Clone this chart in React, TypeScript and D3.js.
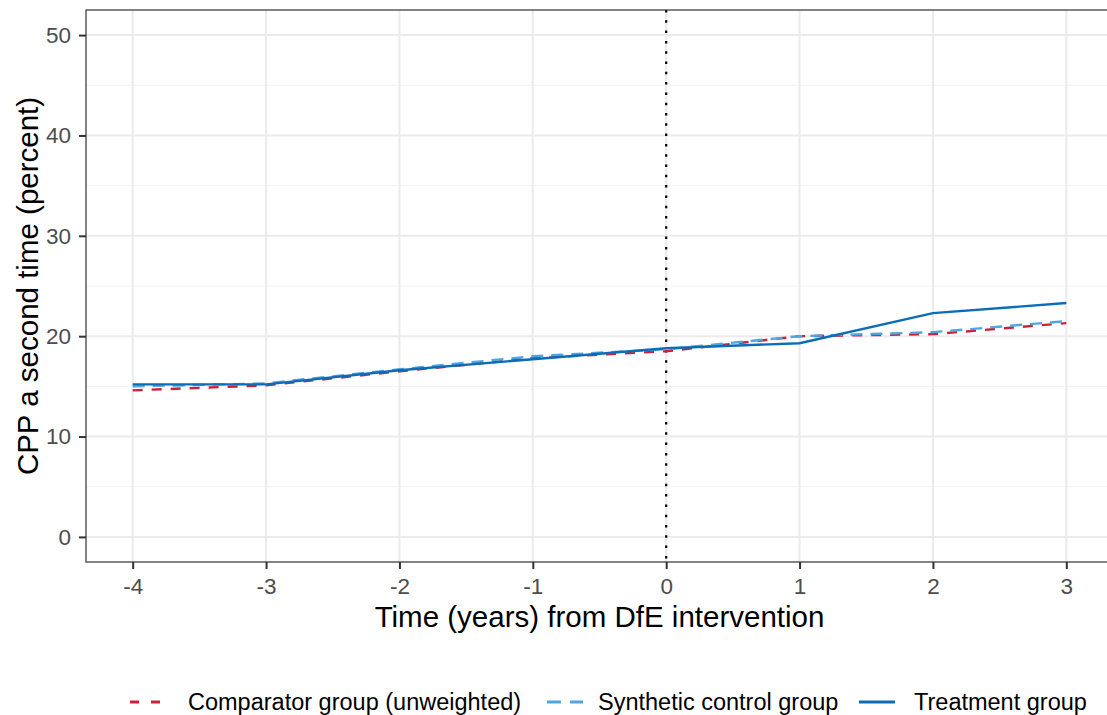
import React, { useEffect, useRef } from 'react';
import * as d3 from 'd3';

const years = [-4, -3, -2, -1, 0, 1, 2, 3];
const comparator = [14.6, 15.1, 16.5, 17.8, 18.5, 20.0, 20.2, 21.3];
const synthetic = [15.0, 15.3, 16.7, 18.0, 18.7, 20.0, 20.4, 21.5];
const treatment = [15.2, 15.2, 16.6, 17.7, 18.8, 19.3, 22.3, 23.3];
const yTicks = [0, 10, 20, 30, 40, 50];
const yMinor = [5, 15, 25, 35, 45];

const seriesList = [
  { name: 'Comparator group (unweighted)', values: comparator, color: '#D11F3A', dash: '10,9' },
  { name: 'Synthetic control group', values: synthetic, color: '#4DA6E2', dash: '12,8' },
  { name: 'Treatment group', values: treatment, color: '#0B6DB7', dash: null as string | null },
];

const W = 1107;
const H = 715;

const App: React.FC = () => {
  const svgRef = useRef<SVGSVGElement>(null);

  useEffect(() => {
    if (!svgRef.current) return;
    const svg = d3.select(svgRef.current);
    svg.selectAll('*').remove();

    const panel = { left: 86, top: 10, right: 1113, bottom: 562 };
    const font = '"Liberation Sans", Arial, sans-serif';

    const x = d3.scaleLinear().domain([-4.35, 3.35]).range([panel.left, panel.right]);
    const y = d3.scaleLinear().domain([-2.5, 52.5]).range([panel.bottom, panel.top]);

    svg.append('rect').attr('width', W).attr('height', H).attr('fill', '#ffffff');

    const grid = svg.append('g');
    // minor horizontal grid
    grid.selectAll('.minor').data(yMinor).enter().append('line')
      .attr('x1', panel.left).attr('x2', panel.right)
      .attr('y1', d => y(d)).attr('y2', d => y(d))
      .attr('stroke', '#F2F2F2').attr('stroke-width', 1);
    grid.selectAll('.major-y').data(yTicks).enter().append('line')
      .attr('x1', panel.left).attr('x2', panel.right)
      .attr('y1', d => y(d)).attr('y2', d => y(d))
      .attr('stroke', '#EBEBEB').attr('stroke-width', 2);
    grid.selectAll('.major-x').data(years).enter().append('line')
      .attr('x1', d => x(d)).attr('x2', d => x(d))
      .attr('y1', panel.top).attr('y2', panel.bottom)
      .attr('stroke', '#EBEBEB').attr('stroke-width', 2);

    // vertical dotted line at intervention
    svg.append('line')
      .attr('x1', x(0)).attr('x2', x(0))
      .attr('y1', panel.top).attr('y2', panel.bottom)
      .attr('stroke', '#000000').attr('stroke-width', 2.2)
      .attr('stroke-dasharray', '2.5,7.8');

    const line = d3.line<number>()
      .x((d, i) => x(years[i]))
      .y(d => y(d));

    seriesList.forEach(s => {
      const p = svg.append('path')
        .datum(s.values)
        .attr('d', line)
        .attr('fill', 'none')
        .attr('stroke', s.color)
        .attr('stroke-width', 2.4);
      if (s.dash) p.attr('stroke-dasharray', s.dash);
    });

    // panel border
    svg.append('rect')
      .attr('x', panel.left).attr('y', panel.top)
      .attr('width', panel.right - panel.left).attr('height', panel.bottom - panel.top)
      .attr('fill', 'none').attr('stroke', '#333333').attr('stroke-width', 1.2);

    // axes
    const yAxis = d3.axisLeft(y).tickValues(yTicks).tickSize(7).tickPadding(8).tickFormat(d3.format('d'));
    const gy = svg.append('g').attr('transform', `translate(${panel.left},0)`).call(yAxis);
    const xAxis = d3.axisBottom(x).tickValues(years).tickSize(7).tickPadding(9).tickFormat(d => String(d));
    const gx = svg.append('g').attr('transform', `translate(0,${panel.bottom})`).call(xAxis);

    [gy, gx].forEach(g => {
      g.select('.domain').remove();
      g.selectAll('.tick line').attr('stroke', '#333333').attr('stroke-width', 2);
      g.selectAll('.tick text')
        .attr('fill', '#4D4D4D')
        .style('font-family', font)
        .style('font-size', '22.5px');
    });
    gx.selectAll('.tick text').text(d => (d as number) < 0 ? '-' + Math.abs(d as number) : String(d));

    // axis titles
    svg.append('text')
      .attr('x', (panel.left + panel.right) / 2)
      .attr('y', 627)
      .attr('text-anchor', 'middle')
      .style('font-family', font)
      .style('font-size', '29.5px')
      .attr('fill', '#000000')
      .text('Time (years) from DfE intervention');

    svg.append('text')
      .attr('transform', `translate(38,${(panel.top + panel.bottom) / 2}) rotate(-90)`)
      .attr('text-anchor', 'middle')
      .style('font-family', font)
      .style('font-size', '29.5px')
      .attr('fill', '#000000')
      .text('CPP a second time (percent)');

    // legend
    const legendY = 702;
    const keyX = [130, 547, 859];
    const textX = [188, 598, 914];
    const legend = svg.append('g');
    seriesList.forEach((s, i) => {
      const kl = legend.append('line')
        .attr('x1', keyX[i]).attr('x2', keyX[i] + (i === 0 ? 31 : 36))
        .attr('y1', legendY).attr('y2', legendY)
        .attr('stroke', s.color).attr('stroke-width', 2.8);
      if (s.dash) kl.attr('stroke-dasharray', i === 0 ? '9,12' : '14,9');
      legend.append('text')
        .attr('x', textX[i])
        .attr('y', legendY)
        .attr('dy', '0.35em')
        .style('font-family', font)
        .style('font-size', '23.5px')
        .attr('fill', '#000000')
        .text(s.name);
    });
  }, []);

  return (
    <div style={{ position: 'absolute', left: 0, top: 0, width: W, height: H, overflow: 'hidden' }}>
      <svg ref={svgRef} width={W} height={H} style={{ display: 'block' }} />
    </div>
  );
};

export default App;
